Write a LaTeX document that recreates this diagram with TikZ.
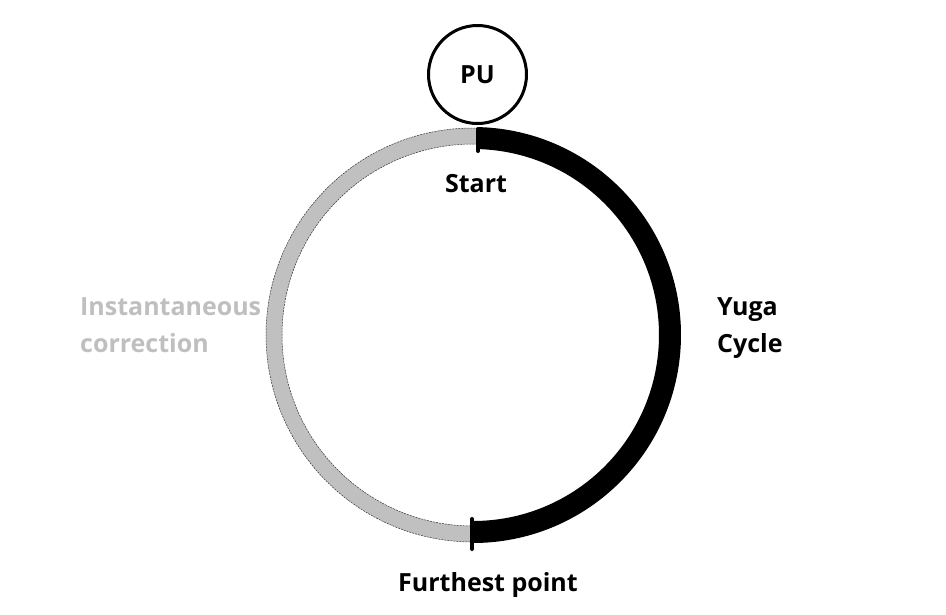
\documentclass[tikz,border=0pt]{standalone}
\usepackage{fontspec}
\setmainfont{Open Sans}
\definecolor{ringgrey}{HTML}{C0C0C0}
\definecolor{labelgrey}{HTML}{BFBFBF}
\begin{document}
\begin{tikzpicture}[x=1pt,y=-1pt,
  lbl/.style={font=\fontsize{25}{37}\selectfont\bfseries, inner sep=0pt, align=left},
  tickmark/.style={line width=4pt, line cap=round}]
\useasboundingbox (0,0) rectangle (946,614);
\coordinate (C) at (473,335);
% grey left half (annulus); angles: -90 = up, 90 = down on the page
\filldraw[ringgrey, draw=black!80, line width=0.5pt, dash pattern=on 2pt off 1pt]
  ([shift={(-88.5:207)}]C) arc[start angle=-88.5, end angle=-269.7, radius=207]
  -- ([shift={(-269.7:191)}]C) arc[start angle=-269.7, end angle=-88.5, radius=191] -- cycle;
% black right half
\draw[line width=22pt] ([shift={(-88.5:197)}]C) arc[start angle=-88.5, end angle=90.3, radius=197];
% PU circle
\node[draw, circle, line width=3pt, minimum size=98pt, inner sep=0pt, lbl, align=center] (pu) at (477.5,74.5) {PU};
% ticks
\coordinate (t1) at (478,129);
\coordinate (t2) at (478,151);
\coordinate (b1) at (472,519);
\coordinate (b2) at (472,549);
\draw[tickmark] (t1) -- (t2);
\draw[tickmark] (b1) -- (b2);
% labels
\node[lbl, anchor=base] (start) at (476,192) {Start};
\node[lbl, anchor=base west] (yuga) at (717,352) {Yuga\\Cycle};
\node[lbl, anchor=base west, text=labelgrey] (inst) at (80,352) {Instantaneous\\correction};
\node[lbl, anchor=base] (far) at (488,591) {Furthest point};
\end{tikzpicture}
\end{document}
